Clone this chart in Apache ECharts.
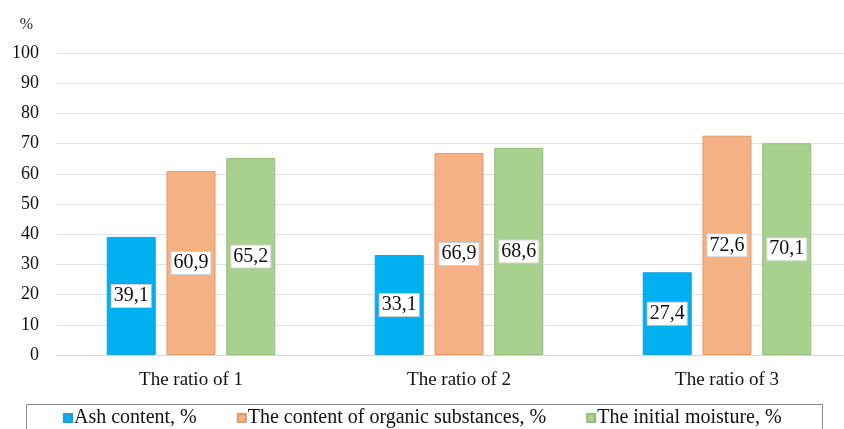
<!DOCTYPE html>
<html>
<head>
<meta charset="utf-8">
<script src="https://cdn.jsdelivr.net/npm/echarts@6/dist/echarts.min.js"></script>
<style>
  html, body { margin: 0; padding: 0; background: #fff; overflow: hidden; }
  #chart { width: 861px; height: 429px; }
</style>
</head>
<body>
<div id="chart"></div>
<script>
// Composition of the mixtures at three component ratios
const categories = ['The ratio of 1', 'The ratio of 2', 'The ratio of 3'];
const seriesNames = ['Ash content, %', 'The content of organic substances, %', 'The initial moisture, %'];
const ashContent = [39.1, 33.1, 27.4];
const organicContent = [60.9, 66.9, 72.6];
const initialMoisture = [65.2, 68.6, 70.1];
const yTicks = [0, 10, 20, 30, 40, 50, 60, 70, 80, 90, 100];

const FONT = '"Liberation Serif", "DejaVu Serif", serif';
const fills = ['#00B0F0', '#F4B183', '#A9D18E'];
const borders = ['#1a9fd6', '#e0996a', '#93bd78'];

function barSeries(name, values, i) {
  return {
    name: name,
    type: 'bar',
    data: values,
    barWidth: 49,
    barGap: '22%',
    itemStyle: { color: fills[i], borderColor: borders[i], borderWidth: 1 },
    label: {
      show: true,
      position: 'inside',
      formatter: p => String(p.value).replace('.', ','),
      fontFamily: FONT,
      fontSize: 20,
      color: '#111',
      backgroundColor: '#fff',
      borderColor: '#d0d0d0',
      borderWidth: 1,
      padding: [2, 2, 0, 2]
    }
  };
}

const chart = echarts.init(document.getElementById('chart'));
chart.setOption({
  animation: false,
  textStyle: { fontFamily: FONT },
  grid: { left: 57, top: 53, right: 0, height: 302, containLabel: false },
  xAxis: {
    type: 'category',
    data: categories,
    axisLine: { show: true, lineStyle: { color: '#d9d9d9' } },
    axisTick: { show: false },
    axisLabel: { fontFamily: FONT, fontSize: 19, color: '#111', margin: 16 }
  },
  yAxis: {
    type: 'value',
    min: yTicks[0],
    max: yTicks[yTicks.length - 1],
    interval: 10,
    name: '%',
    nameLocation: 'end',
    nameGap: 20,
    nameTextStyle: { fontFamily: FONT, fontSize: 16, color: '#222', align: 'right', padding: [0, 24, 0, 0] },
    axisLine: { show: false },
    axisTick: { show: false },
    axisLabel: { fontFamily: FONT, fontSize: 18, color: '#111', margin: 18 },
    splitLine: { lineStyle: { color: '#e3e3e3' } }
  },
  legend: {
    top: 403,
    left: 58,
    itemWidth: 8,
    itemHeight: 8,
    itemGap: 40,
    icon: 'rect',
    textStyle: { fontFamily: FONT, fontSize: 20, color: '#111', padding: [0, 0, 0, -3] },
    data: seriesNames
  },
  graphic: [{
    type: 'rect',
    left: 24,
    top: 402,
    shape: { width: 796, height: 40 },
    style: { fill: 'none', stroke: '#888', lineWidth: 1 },
    z: 0
  }],
  series: [
    barSeries(seriesNames[0], ashContent, 0),
    barSeries(seriesNames[1], organicContent, 1),
    barSeries(seriesNames[2], initialMoisture, 2)
  ]
});
</script>
</body>
</html>
